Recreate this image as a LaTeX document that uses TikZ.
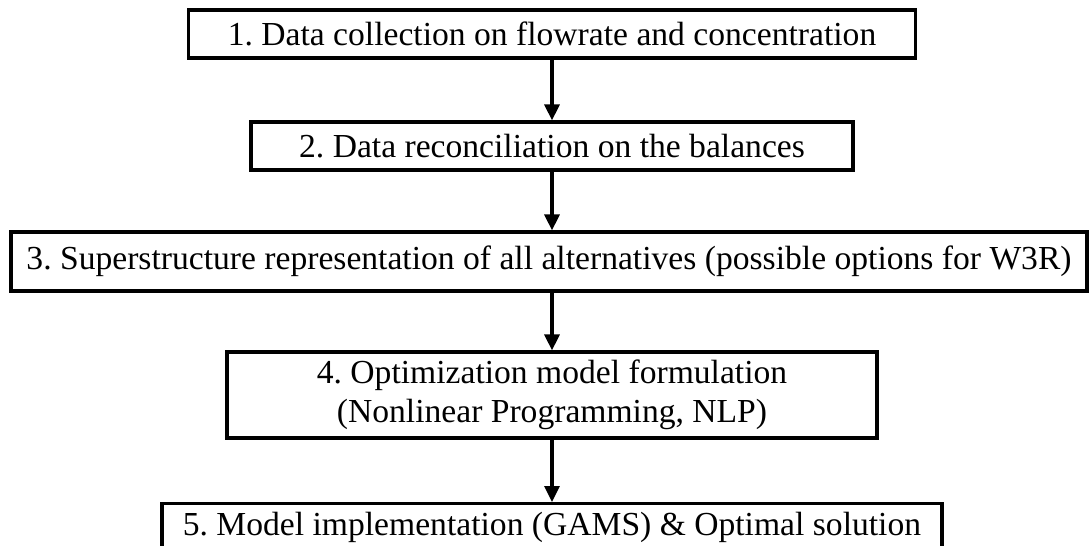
\documentclass[tikz,border=0pt]{standalone}
\usepackage{fontspec}
\setmainfont{Liberation Serif}
\usetikzlibrary{arrows.meta}
\frenchspacing
\begin{document}
\begin{tikzpicture}[x=0.5pt,y=-0.5pt,
  stepbox/.style={draw,line width=1.6pt,inner sep=0pt,font=\fontsize{16.8pt}{19.5pt}\selectfont,align=center},
  arr/.style={line width=1.6pt,-{Triangle[length=8pt,width=7.5pt]}}]
\useasboundingbox (0,0) rectangle (1089,546);
\clip (0,0) rectangle (1089,546);
\node[stepbox,minimum width=363.5pt,minimum height=24pt] (b1) at (552,34) {1. Data collection on flowrate and concentration};
\node[stepbox,minimum width=301pt,minimum height=24pt] (b2) at (552,146) {2. Data reconciliation on the balances};
\node[stepbox,minimum width=538pt,minimum height=29.5pt] (b3) at (549,261.5) {3. Superstructure representation of all alternatives (possible options for W3R)};
\node[stepbox,minimum width=325pt,minimum height=43pt] (b4) at (552,395) {4. Optimization model formulation\\(Nonlinear Programming, NLP)};
\node[stepbox,minimum width=390pt,minimum height=24pt,anchor=north] (b5) at (552,502) {5. Model implementation (GAMS) \& Optimal solution};
\coordinate (ax) at (552,0);
\draw[arr] (ax |- b1.south) -- (ax |- b2.north);
\draw[arr] (ax |- b2.south) -- (ax |- b3.north);
\draw[arr] (ax |- b3.south) -- (ax |- b4.north);
\draw[arr] (ax |- b4.south) -- (ax |- b5.north);
\end{tikzpicture}
\end{document}
